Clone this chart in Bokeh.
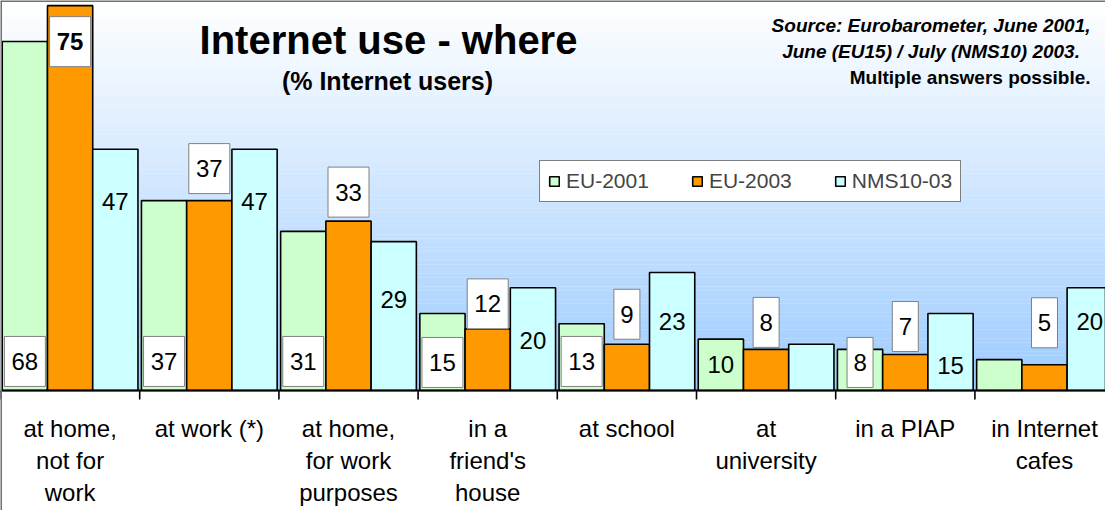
import numpy as np
import pandas as pd
from bokeh.plotting import figure
from bokeh.models import ColumnDataSource, Legend, LegendItem, Range1d, Label
from bokeh.core.properties import value
from bokeh.embed import file_html
from bokeh.resources import INLINE

# ---------------- data ----------------
categories = ["at home,\nnot for\nwork", "at work (*)", "at home,\nfor work\npurposes",
              "in a\nfriend's\nhouse", "at school", "at\nuniversity", "in a PIAP",
              "in Internet\ncafes"]
series_names = ["EU-2001", "EU-2003", "NMS10-03"]
eu2001 = [68, 37, 31, 15, 13, 10, 8, 6]
eu2003 = [75, 37, 33, 12, 9, 8, 7, 5]
nms10 = [47, 47, 29, 20, 23, 9, 15, 20]
# which bars carry a data label in the original chart
eu2001_labelled = [True, True, True, True, True, True, True, False]
eu2003_labelled = [True, True, True, True, True, True, True, True]
nms10_labelled = [True, True, True, True, True, False, True, True]

title_text = "Internet use - where"
subtitle_text = "(% Internet users)"
source_lines = ["Source: Eurobarometer, June 2001,",
                "June (EU15)  / July  (NMS10) 2003.",
                "Multiple answers possible."]

# ---------------- style ----------------
FONT = "Liberation Sans"
colors = ["#CCFFCC", "#FF9900", "#CCFFFF"]
W, H = 1105, 510
CAT_PX = 139.2
Y_END, Y_START = 76.0, -23.4
PPU = H / (Y_END - Y_START)           # pixels per value unit
X_END = W / CAT_PX
offsets = [-0.325, 0.0, 0.325]
bar_w = 0.325

# label placement styles (pixels)
eu2001_dy = [29, 29, 29, 28, 29, 26, 28, 0]        # above the base line
eu2001_boxed = [True, True, True, True, True, False, True, False]
eu2003_dy = [-36, 32, 29, 25, 30, 27, 28, 42]      # relative to bar top
nms10_dy = [-52, -52, -58, -53, -49, 0, -52, -34]  # relative to bar top

p = figure(width=W, height=H, output_backend="svg", toolbar_location=None,
           x_range=Range1d(0, X_END), y_range=Range1d(Y_START, Y_END),
           min_border=0, min_border_left=0, min_border_right=0,
           min_border_top=0, min_border_bottom=0)
p.axis.visible = False
p.grid.visible = False
p.outline_line_color = None
p.background_fill_color = "white"
p.border_fill_color = "white"

# background gradient (plot area)
n = 90
edges = np.linspace(0, Y_END, n + 1)
top_rgb = np.array([156, 203, 255])
bot_rgb = np.array([255, 255, 255])
fr = 1 - (edges[:-1] + edges[1:]) / 2 / Y_END
cols = ["#%02x%02x%02x" % tuple(np.round(bot_rgb + (top_rgb - bot_rgb) * f).astype(int)) for f in fr]
p.quad(left=0, right=X_END, bottom=edges[:-1], top=edges[1:] + 0.06, fill_color=cols, line_color=None)

# bars
series = [eu2001, eu2003, nms10]
renderers = []
for k, vals in enumerate(series):
    src = ColumnDataSource(dict(x=[i + 0.5 + offsets[k] for i in range(len(categories))], top=vals))
    r = p.vbar(x="x", top="top", bottom=0, width=bar_w, source=src,
               fill_color=colors[k], line_color="black", line_width=1.6)
    renderers.append(r)

# axis line and category separator ticks
p.segment(x0=[0], x1=[X_END], y0=[0], y1=[0], line_color="black", line_width=2)
ticks = list(range(0, len(categories)))
p.segment(x0=ticks, x1=ticks, y0=[0] * len(ticks), y1=[-9 / PPU] * len(ticks),
          line_color="black", line_width=1.6)

# chart borders (top, left)
p.segment(x0=[0, 0], x1=[0, X_END], y0=[Y_START, Y_END], y1=[Y_END, Y_END],
          line_color="#707070", line_width=3)

# data labels
rows = []
for i in range(len(categories)):
    if eu2001_labelled[i]:
        rows.append(dict(x=i + 0.5 + offsets[0], y=eu2001_dy[i] / PPU, t=str(eu2001[i]),
                         boxed=eu2001_boxed[i], bold=False))
    if eu2003_labelled[i]:
        rows.append(dict(x=i + 0.5 + offsets[1], y=eu2003[i] + eu2003_dy[i] / PPU, t=str(eu2003[i]),
                         boxed=True, bold=(eu2003[i] == max(eu2003))))
    if nms10_labelled[i]:
        rows.append(dict(x=i + 0.5 + offsets[2], y=nms10[i] + nms10_dy[i] / PPU, t=str(nms10[i]),
                         boxed=False, bold=False))
lab = pd.DataFrame(rows)
lab["bw"] = np.where(lab["t"].str.len() > 1, 41, 26)
boxes = lab[lab["boxed"]]
p.rect(x=boxes["x"], y=boxes["y"], width=boxes["bw"], height=50,
       width_units="screen", height_units="screen",
       fill_color="white", line_color="#808080", line_width=1)
norm = lab[~lab["bold"]]
p.text(x=norm["x"], y=norm["y"], text=norm["t"], text_align="center", text_baseline="middle",
       text_font=value(FONT), text_font_size="24px", text_color="black")
bold = lab[lab["bold"]]
p.text(x=bold["x"], y=bold["y"], text=bold["t"], text_align="center", text_baseline="middle",
       text_font=value(FONT), text_font_size="24px", text_font_style="bold", text_color="black")

# category labels
cx, cy, ct = [], [], []
for i, c in enumerate(categories):
    for k, line in enumerate(c.split("\n")):
        cx.append(i + 0.5)
        cy.append(-(38 + 32 * k) / PPU)
        ct.append(line)
p.text(x=cx, y=cy, text=ct, text_align="center", text_baseline="middle",
       text_font=value(FONT), text_font_size="24px", text_color="black")

# titles
p.add_layout(Label(x=388, y=H - 39, x_units="screen", y_units="screen", text=title_text,
                   text_align="center", text_baseline="middle", text_font=FONT,
                   text_font_size="40px", text_font_style="bold", text_color="black"))
p.add_layout(Label(x=387, y=H - 80, x_units="screen", y_units="screen", text=subtitle_text,
                   text_align="center", text_baseline="middle", text_font=FONT,
                   text_font_size="25px", text_font_style="bold", text_color="black"))
styles = ["bold italic", "bold italic", "bold"]
for k, s in enumerate(source_lines):
    p.add_layout(Label(x=1090, y=H - 25 - 26 * k, x_units="screen", y_units="screen", text=s,
                       text_align="right", text_baseline="middle", text_font=FONT,
                       text_font_size="19px", text_font_style=styles[k], text_color="black"))

# legend
legend = Legend(items=[LegendItem(label=series_names[k], renderers=[renderers[k]]) for k in range(3)],
                orientation="horizontal", location=(539, 308),
                label_text_font=FONT, label_text_font_size="21px",
                glyph_width=12, glyph_height=12, label_standoff=6, spacing=42,
                padding=8, margin=0, border_line_color="black", border_line_width=1,
                background_fill_color="white", background_fill_alpha=1.0)
p.add_layout(legend)

open("out.html", "w").write(file_html(p, INLINE))
